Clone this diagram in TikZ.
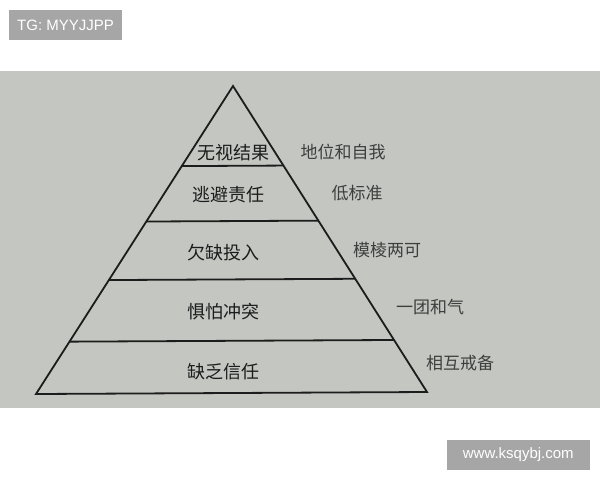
\documentclass[tikz,border=0pt]{standalone}
\usepackage{fontspec}
\setmainfont{Liberation Sans}
\newfontfamily\cjk{Noto Sans CJK SC}
\usetikzlibrary{calc}
\definecolor{paper}{RGB}{196,198,193}
\definecolor{ink}{RGB}{28,28,28}
\definecolor{markgrey}{RGB}{166,166,166}
\tikzset{
  level/.style={font=\cjk\fontsize{18}{20}\selectfont, text=ink},
  side/.style={font=\cjk\fontsize{17}{19}\selectfont, text=ink!85},
  watermark/.style={fill=markgrey, text=white, inner xsep=8pt, inner ysep=0pt,
               minimum height=30pt, font=\fontsize{15}{17}\selectfont}
}
\begin{document}
\begin{tikzpicture}[x=1pt,y=-1pt]
    \useasboundingbox (0,0) rectangle (600,480);
    % Paper
    \fill[paper] (0,71) rectangle (600,408);

    \coordinate (A)  at (233,86);
    \coordinate (BL) at (36,394);
    \coordinate (BR) at (427,392);

    \coordinate (L1) at ($(A)!0.26!(BL)$);
    \coordinate (R1) at ($(A)!0.26!(BR)$);
    \coordinate (L2) at ($(A)!0.44!(BL)$);
    \coordinate (R2) at ($(A)!0.44!(BR)$);
    \coordinate (L3) at ($(A)!0.63!(BL)$);
    \coordinate (R3) at ($(A)!0.63!(BR)$);
    \coordinate (L4) at ($(A)!0.83!(BL)$);
    \coordinate (R4) at ($(A)!0.83!(BR)$);

    % Pyramid
    \draw[ink, line width=1.8pt, line join=miter] (BL) -- (A) -- (BR) -- cycle;
    \draw[ink, line width=1.8pt] (L1) -- (R1);
    \draw[ink, line width=1.8pt] (L2) -- (R2);
    \draw[ink, line width=1.8pt] (L3) -- (R3);
    \draw[ink, line width=1.8pt] (L4) -- (R4);

    % Levels
    \node[level] (result)  at (233,153) {无视结果};
    \node[level] (account) at (228,195) {逃避责任};
    \node[level] (commit)  at (223,253) {欠缺投入};
    \node[level] (conflict) at (223,312) {惧怕冲突};
    \node[level] (trust)   at (223,372) {缺乏信任};

    % Symptoms
    \node[side] (status)  at (343,152) {地位和自我};
    \node[side] (low)     at (357,193) {低标准};
    \node[side] (vague)   at (387,250) {模棱两可};
    \node[side] (harmony) at (430,307) {一团和气};
    \node[side] (guard)   at (460,363) {相互戒备};

    % Watermarks
    \node[watermark, anchor=north west, minimum width=108pt] (tg)  at (9,10)   {TG: MYYJJPP};
    \node[watermark, anchor=south east, minimum width=143pt] (web) at (590,470) {www.ksqybj.com};
\end{tikzpicture}
\end{document}
